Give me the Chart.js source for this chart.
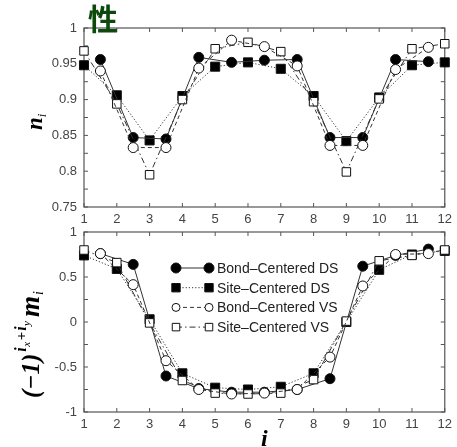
<!DOCTYPE html>
<html><head><meta charset="utf-8">
<script src="https://cdn.jsdelivr.net/npm/chart.js@4.4.0/dist/chart.umd.min.js"></script>
<style>
html,body{margin:0;padding:0;background:#fff;width:457px;height:447px;overflow:hidden;}
#wrap{position:relative;width:457px;height:447px;}
canvas{position:absolute;left:0;}
#c1{top:0;} #c2{top:215px;}
#ttl{position:absolute;left:88px;top:0px;font:bold 30px 'Noto Sans CJK SC',sans-serif;color:#0b4a0b;line-height:34px;}
</style></head><body>
<div id="wrap">
<canvas id="c1" width="457" height="232"></canvas>
<canvas id="c2" width="457" height="232"></canvas>
<div id="ttl">性</div>
</div>
<script>
// ---- data ----
const siteX = [1,2,3,4,5,6,7,8,9,10,11,12];
const bondX = [1.5,2.5,3.5,4.5,5.5,6.5,7.5,8.5,9.5,10.5,11.5];
const seriesNames = ['Bond\u2013Centered DS','Site\u2013Centered DS','Bond\u2013Centered VS','Site\u2013Centered VS'];
// top panel: n_i
const nBondDS = [0.956,0.847,0.845,0.959,0.952,0.955,0.956,0.847,0.847,0.956,0.953];
const nSiteDS = [0.948,0.906,0.843,0.905,0.946,0.952,0.943,0.905,0.842,0.903,0.948,0.952];
const nBondVS = [0.940,0.833,0.833,0.944,0.983,0.974,0.947,0.836,0.836,0.942,0.973];
const nSiteVS = [0.968,0.894,0.795,0.900,0.971,0.980,0.967,0.897,0.799,0.901,0.971,0.978];
// bottom panel: (-1)^(ix+iy) m_i
const mBondDS = [0.76,0.64,-0.60,-0.74,-0.78,-0.78,-0.75,-0.63,0.62,0.74,0.81];
const mSiteDS = [0.74,0.59,0.03,-0.57,-0.73,-0.75,-0.72,-0.57,0.00,0.58,0.75,0.79];
const mBondVS = [0.76,0.415,-0.43,-0.75,-0.80,-0.79,-0.75,-0.39,0.40,0.75,0.76];
const mSiteVS = [0.80,0.66,-0.01,-0.65,-0.79,-0.80,-0.79,-0.64,0.01,0.68,0.74,0.80];
// tick labels
const xTickLabels = [1,2,3,4,5,6,7,8,9,10,11,12];
const nTickLabels = [0.75,0.8,0.85,0.9,0.95,1];
const mTickLabels = [-1,-0.5,0,0.5,1];

Chart.defaults.font.family = "'Liberation Sans', Arial, sans-serif";
Chart.defaults.font.size = 13;
Chart.defaults.color = '#444';

const LINE = '#333';
const styles = [
  {dash:[], pt:'circle', r:5, fill:'#000', lr:5, order:2},
  {dash:[1.2,2], pt:'rect', r:6.4, fill:'#000', lr:5.6, order:2},
  {dash:[4,3], pt:'circle', r:5, fill:'#fff', lr:4, order:1},
  {dash:[6,3,1.5,3], pt:'rect', r:6, fill:'#fff', lr:5, order:1}
];

function ds(i, xs, ys){
  const s = styles[i];
  return {
    label: seriesNames[i],
    data: xs.map((x,k)=>({x:x, y:ys[k]})),
    borderColor: LINE, borderWidth: 1, borderDash: s.dash,
    pointStyle: s.pt, pointRadius: s.r, pointBackgroundColor: s.fill,
    pointBorderColor: '#111', pointBorderWidth: 1, pointHoverRadius: s.r,
    tension: 0, fill: false, clip: false, order: s.order
  };
}

const framePlugin = {
  id: 'frame',
  beforeDatasetsDraw(chart){
    const {ctx, chartArea:a, scales} = chart;
    ctx.save();
    ctx.strokeStyle = '#555'; ctx.lineWidth = 1.2;
    ctx.strokeRect(a.left, a.top, a.right-a.left, a.bottom-a.top);
    ctx.lineWidth = 1;
    ctx.beginPath();
    scales.x.ticks.forEach(t=>{
      const p = scales.x.getPixelForValue(t.value);
      ctx.moveTo(p, a.bottom); ctx.lineTo(p, a.bottom-4);
      ctx.moveTo(p, a.top); ctx.lineTo(p, a.top+4);
    });
    scales.y.ticks.forEach(t=>{
      const p = scales.y.getPixelForValue(t.value);
      ctx.moveTo(a.left, p); ctx.lineTo(a.left+4, p);
      ctx.moveTo(a.right, p); ctx.lineTo(a.right-4, p);
    });
    ctx.stroke();
    ctx.restore();
  }
};

function drawRich(ctx, x, y, parts){
  ctx.save();
  ctx.translate(x, y); ctx.rotate(-Math.PI/2);
  ctx.fillStyle = '#000'; ctx.textBaseline = 'alphabetic'; ctx.textAlign = 'left';
  let cx = 0;
  parts.forEach(p=>{
    ctx.font = p.f;
    ctx.fillText(p.t, cx, p.dy||0);
    cx += ctx.measureText(p.t).width + (p.g||0);
  });
  ctx.restore();
}
const SERIF = "'Liberation Serif','DejaVu Serif',serif";

function near(v, list){ return list.some(l=>Math.abs(l-v)<1e-6); }

function makeOpts(yMin, yMax, yStep, yLabels, padTop, xH){
  return {
    responsive:false, animation:false, devicePixelRatio:1,
    layout:{padding:{left:0,right:7,top:padTop,bottom:0}},
    plugins:{legend:{display:false}, tooltip:{enabled:false}},
    scales:{
      x:{type:'linear', min:1, max:12,
        grid:{display:false, drawTicks:false}, border:{display:false},
        afterFit(s){ s.height = xH; },
        ticks:{stepSize:1, autoSkip:false, maxRotation:0, padding:5,
          callback:v=> near(v, xTickLabels) ? String(v) : ''}},
      y:{type:'linear', min:yMin, max:yMax,
        grid:{display:false, drawTicks:false}, border:{display:false},
        afterFit(s){ s.width = 84; },
        ticks:{stepSize:yStep, autoSkip:false, padding:7,
          callback:v=> near(v, yLabels) ? String(Math.round(v*100)/100) : ''}}
    }
  };
}

const topTitle = {
  id:'topTitle',
  afterDraw(chart){
    drawRich(chart.ctx, 42, 130, [
      {t:'n', f:"bold italic 23px "+SERIF},
      {t:'i', f:"italic 13px "+SERIF, dy:4}
    ]);
  }
};

new Chart(document.getElementById('c1'), {
  type:'line',
  data:{datasets:[ds(0,bondX,nBondDS), ds(1,siteX,nSiteDS), ds(2,bondX,nBondVS), ds(3,siteX,nSiteVS)]},
  options: makeOpts(0.75, 1, 0.025, nTickLabels, 28, 25),
  plugins:[framePlugin, topTitle]
});

const bottomExtras = {
  id:'bottomExtras',
  afterDraw(chart){
    const ctx = chart.ctx, a = chart.chartArea;
    // y title
    drawRich(ctx, 39, 183, [
      {t:'(\u2212', f:"bold italic 25px "+SERIF},
      {t:'1)', f:"bold italic 25px "+SERIF, g:2},
      {t:'i', f:"bold italic 16px "+SERIF, dy:-13, g:0.5},
      {t:'x', f:"italic 11px "+SERIF, dy:-9, g:1.5},
      {t:'+', f:"bold 15px "+SERIF, dy:-13, g:1},
      {t:'i', f:"bold italic 16px "+SERIF, dy:-13, g:0.5},
      {t:'y', f:"italic 11px "+SERIF, dy:-9, g:4},
      {t:'m', f:"bold italic 27px "+SERIF, g:1},
      {t:'i', f:"italic 14px "+SERIF, dy:4}
    ]);
    // x title
    ctx.save();
    ctx.font = "bold italic 24px "+SERIF; ctx.fillStyle='#000';
    ctx.textAlign='center'; ctx.textBaseline='middle';
    ctx.fillText('i', (a.left+a.right)/2, 225);
    ctx.restore();
    // legend
    ctx.save();
    const x1 = a.left+92, x2 = a.left+125, tx = a.left+133;
    styles.forEach((s,k)=>{
      const y = a.top + 36 + k*19.7;
      ctx.strokeStyle = LINE; ctx.lineWidth = 1; ctx.setLineDash(s.dash);
      ctx.beginPath(); ctx.moveTo(x1,y); ctx.lineTo(x2,y); ctx.stroke();
      ctx.setLineDash([]);
      [x1,x2].forEach(px=>{
        ctx.fillStyle = s.fill; ctx.strokeStyle = '#111';
        ctx.beginPath();
        if (s.pt==='circle') ctx.arc(px, y, s.lr, 0, Math.PI*2);
        else ctx.rect(px-s.lr*0.75, y-s.lr*0.75, s.lr*1.5, s.lr*1.5);
        ctx.fill(); ctx.stroke();
      });
      ctx.fillStyle = '#222'; ctx.font = "14px 'Liberation Sans', Arial, sans-serif";
      ctx.textAlign='left'; ctx.textBaseline='middle';
      ctx.fillText(seriesNames[k], tx, y+1);
    });
    ctx.restore();
  }
};

new Chart(document.getElementById('c2'), {
  type:'line',
  data:{datasets:[ds(0,bondX,mBondDS), ds(1,siteX,mSiteDS), ds(2,bondX,mBondVS), ds(3,siteX,mSiteVS)]},
  options: makeOpts(-1, 1, 0.25, mTickLabels, 17, 35),
  plugins:[framePlugin, bottomExtras]
});
</script>
</body></html>
